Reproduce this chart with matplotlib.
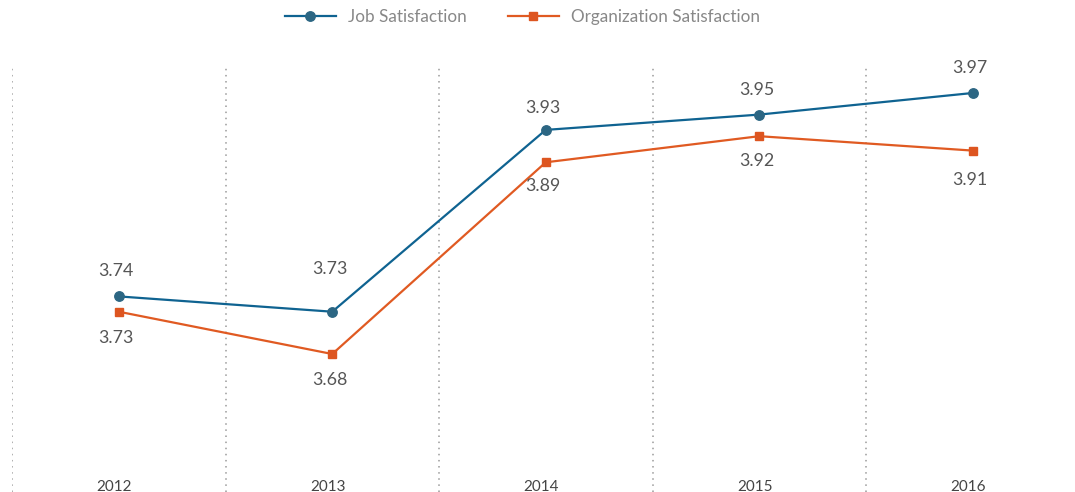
import matplotlib
matplotlib.use("Agg")
import matplotlib.pyplot as plt
import matplotlib.transforms as mtransforms

# data
years = ["2012", "2013", "2014", "2015", "2016"]
job_satisfaction = [3.744, 3.727, 3.929, 3.946, 3.970]
org_satisfaction = [3.727, 3.680, 3.893, 3.922, 3.906]

JOB_LINE = "#0f6391"
JOB_MARK = "#2c6683"
ORG_LINE = "#e05a22"
ORG_MARK = "#dd5520"
TEXT = "#555555"

plt.rcParams["font.family"] = ["Lato", "DejaVu Sans"]

fig = plt.figure(figsize=(10.75, 4.92), dpi=100)
# axes spans from the top of the dotted lines down to the image bottom
ax = fig.add_axes([12 / 1075, 0, 1067.5 / 1075, (492 - 65) / 492])

x = list(range(len(years)))
ax.plot(x, job_satisfaction, color=JOB_LINE, lw=1.6, marker="o", ms=6.8,
        mfc=JOB_MARK, mec=JOB_MARK, label="Job Satisfaction", zorder=3)
ax.plot(x, org_satisfaction, color=ORG_LINE, lw=1.6, marker="s", ms=6,
        mfc=ORG_MARK, mec=ORG_MARK, label="Organization Satisfaction", zorder=3)

ax.set_xlim(-0.5, len(years) - 0.5)
ax.set_ylim(3.5267, 4.0011)

# dotted category separators
for i in range(len(years)):
    ax.axvline(i - 0.5, color="#9a9a9a", lw=1.1, ls=(0, (1, 3)), zorder=1)

# value labels: job above, organization below
job_off = [18, 31, 16, 18, 18]
for i, v in enumerate(job_satisfaction):
    ax.annotate(f"{v:.2f}", (i, v), xytext=(-2, job_off[i]), textcoords="offset points",
                ha="center", va="center", fontsize=12.8, color=TEXT)
org_off = [-19, -19, -17, -18, -21]
for i, v in enumerate(org_satisfaction):
    ax.annotate(f"{v:.2f}", (i, v), xytext=(-2, org_off[i]), textcoords="offset points",
                ha="center", va="center", fontsize=12.8, color=TEXT)

# year labels at the bottom
trans = mtransforms.blended_transform_factory(ax.transData, ax.transAxes)
for i, yr in enumerate(years):
    ax.text(i - 0.02, 5 / 427, yr, transform=trans, ha="center", va="center",
            fontsize=11, color="#444444")

ax.set_xticks([])
ax.set_yticks([])
for s in ax.spines.values():
    s.set_visible(False)

fig.legend(loc="center", bbox_to_anchor=(0.486, 1 - 17 / 492), ncol=2, frameon=False,
           fontsize=12.3, labelcolor="#888888", handlelength=3.0, columnspacing=2.4,
           handletextpad=0.7)

fig.savefig("out.png", dpi=100)
